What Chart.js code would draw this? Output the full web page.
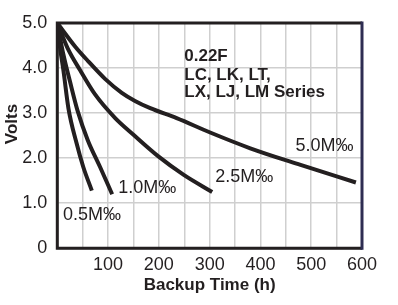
<!DOCTYPE html>
<html>
<head>
<meta charset="utf-8">
<script src="https://cdn.jsdelivr.net/npm/chart.js@4.4.1/dist/chart.umd.min.js"></script>
<style>
  body { margin: 0; background: #fff; }
  #wrap { width: 398px; height: 305px; position: relative; }
</style>
</head>
<body>
<div id="wrap"><canvas id="backupChart"></canvas></div>
<script>
// Backup time curves, 0.22F

const hours05 = [0, 6, 12, 22, 38, 51, 68];
const volts05 = [5.0, 4.4, 3.95, 3.1, 2.33, 1.81, 1.28];

const hours10 = [0, 12, 25, 40, 60, 84, 108];
const volts10 = [5.0, 4.3, 3.7, 3.05, 2.4, 1.81, 1.2];

const hours25 = [0, 20, 45, 74, 114, 150, 199, 249, 305];
const volts25 = [5.0, 4.45, 3.95, 3.42, 2.89, 2.52, 2.04, 1.63, 1.25];

const hours50 = [0, 35, 61, 94, 127, 153, 183, 235, 301, 380, 479, 588];
const volts50 = [5.0, 4.48, 4.15, 3.76, 3.45, 3.27, 3.11, 2.89, 2.57, 2.22, 1.85, 1.46];

const xTicks = [100, 200, 300, 400, 500, 600];
const yTicks = ["0", "1.0", "2.0", "3.0", "4.0", "5.0"];

// text placed in data units: [text, hours, volts, bold]
const notes = [
    ["0.22F", 250, 4.26, true],
    ["LC, LK, LT,", 250, 3.85, true],
    ["LX, LJ, LM Series", 250, 3.47, true],
    ["5.0M\u2030", 469, 2.27, false],
    ["2.5M\u2030", 311, 1.58, false],
    ["1.0M\u2030", 120, 1.34, false],
    ["0.5M\u2030", 11, 0.74, false]
];

const ink = "#231f20";
const fontName = "'Liberation Sans', Arial, Helvetica, sans-serif";

function toPoints(xs, ys){
    return xs.map((x, i) => ({ x: x, y: ys[i] }));
}

function curve(xs, ys){
    return {
        data: toPoints(xs, ys),
        borderColor: ink,
        borderWidth: 4,
        pointRadius: 0,
        cubicInterpolationMode: "monotone",
        fill: false
    };
}

const framePlugin = {
    id: "frame",
    afterDatasetsDraw(chart){
        const ctx = chart.ctx;
        const a = chart.chartArea;
        const xs = chart.scales.x;
        const ys = chart.scales.y;

        ctx.save();
        ctx.lineWidth = 3;
        ctx.strokeStyle = ink;
        ctx.beginPath();
        ctx.moveTo(a.right, a.top);
        ctx.lineTo(a.left, a.top);
        ctx.lineTo(a.left, a.bottom);
        ctx.lineTo(a.right, a.bottom);
        ctx.stroke();
        ctx.strokeStyle = "#2e2d52";
        ctx.beginPath();
        ctx.moveTo(a.right, a.top - 1.5);
        ctx.lineTo(a.right, a.bottom + 1.5);
        ctx.stroke();

        ctx.fillStyle = ink;
        ctx.textBaseline = "middle";
        ctx.textAlign = "left";
        notes.forEach(n => {
            ctx.font = (n[3] ? "bold 17px " : "18px ") + fontName;
            ctx.fillText(n[0], xs.getPixelForValue(n[1]), ys.getPixelForValue(n[2]));
        });

        // y axis title
        ctx.font = "bold 17px " + fontName;
        ctx.translate(12, 124);
        ctx.rotate(-Math.PI / 2);
        ctx.textAlign = "center";
        ctx.fillText("Volts", 0, 0);
        ctx.restore();
    }
};

new Chart(document.getElementById("backupChart"), {

    type: "line",

    data: {
        datasets: [
            curve(hours05, volts05),
            curve(hours10, volts10),
            curve(hours25, volts25),
            curve(hours50, volts50)
        ]
    },

    options: {
        responsive: true,
        maintainAspectRatio: false,
        animation: false,
        layout: {
            padding: { left: 0, top: 23, right: 36, bottom: 0 }
        },
        plugins: {
            legend: { display: false },
            tooltip: { enabled: false }
        },
        scales: {
            x: {
                type: "linear",
                min: 0,
                max: 600,
                afterFit(scale){ scale.height = 56.7; },
                ticks: {
                    stepSize: 50,
                    padding: 6,
                    maxRotation: 0,
                    minRotation: 0,
                    autoSkip: false,
                    color: ink,
                    font: { family: fontName, size: 18 },
                    callback: v => xTicks.includes(v) ? String(v) : ""
                },
                grid: { color: "#cfcfcf", lineWidth: 1.5, drawTicks: false },
                border: { display: false },
                title: {
                    display: true,
                    text: "Backup Time (h)",
                    color: ink,
                    font: { family: fontName, size: 17, weight: "bold" },
                    padding: { top: 0, bottom: 9 }
                }
            },
            y: {
                min: 0,
                max: 5,
                afterFit(scale){ scale.width = 57.3; },
                ticks: {
                    stepSize: 1,
                    padding: 10,
                    color: ink,
                    font: { family: fontName, size: 18 },
                    callback: v => yTicks[v]
                },
                grid: { color: "#cfcfcf", lineWidth: 1.5, drawTicks: false },
                border: { display: false }
            }
        }
    },

    plugins: [framePlugin]
});
</script>
</body>
</html>
